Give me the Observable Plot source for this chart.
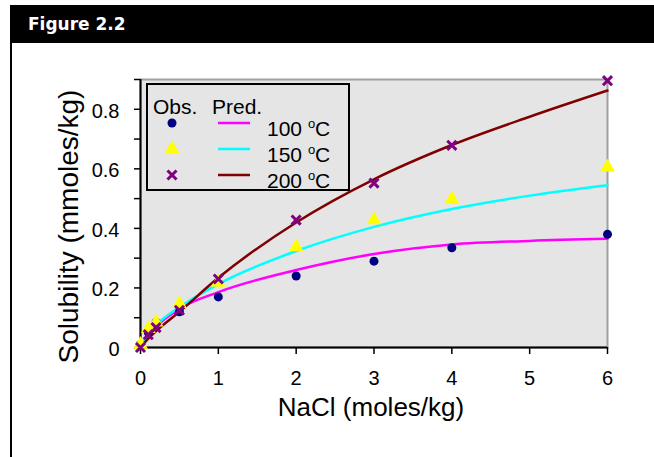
<!DOCTYPE html>
<html>
<head>
<meta charset="utf-8">
<script src="https://cdn.jsdelivr.net/npm/d3@7"></script>
<script src="https://cdn.jsdelivr.net/npm/@observablehq/plot@0.6"></script>
<style>
  body { margin: 0; background: #fff; }
  #wrap { position: relative; width: 654px; height: 457px; overflow: hidden; font-family: "Liberation Sans", Arial, sans-serif; }
  #chart { position: absolute; left: 0; top: 0; }
  #header { position: absolute; left: 10px; top: 5px; }
  #vline { position: absolute; left: 10px; top: 43px; width: 2px; height: 414px; background: #000; }
  #legend { position: absolute; left: 146px; top: 83px; }
</style>
</head>
<body>
<div id="wrap">
  <div id="chart"></div>
  <div id="vline"></div>
  <svg id="header" width="644" height="38">
    <rect width="644" height="38" fill="#000"></rect>
    <text x="18" y="25" fill="#fff" font-family="DejaVu Sans" font-weight="bold" font-size="17">Figure 2.2</text>
  </svg>
  <svg id="legend" width="206" height="110"></svg>
</div>
<script>
// ---- data ----
const naclObs = [0, 0.1, 0.2, 0.5, 1, 2, 3, 4, 6];
const obs100 = [0.01, 0.05, 0.085, 0.12, 0.17, 0.24, 0.29, 0.335, 0.38];
const obs150 = [0.01, 0.063, 0.085, 0.147, 0.218, 0.338, 0.428, 0.498, 0.605];
const obs200 = [0.0, 0.043, 0.067, 0.125, 0.23, 0.428, 0.552, 0.679, 0.896];

const naclPred = [0, 0.1, 0.2, 0.5, 1, 2, 3, 4, 5, 6];
const pred100 = [0, 0.04, 0.07, 0.13, 0.186, 0.26, 0.314, 0.346, 0.358, 0.365];
const pred150 = [0, 0.045, 0.075, 0.135, 0.213, 0.324, 0.405, 0.465, 0.51, 0.545];
const pred200 = [0, 0.03, 0.055, 0.12, 0.234, 0.42, 0.565, 0.68, 0.775, 0.863];

const seriesNames = ["100", "150", "200"];
const lineColors = ["#ff00ff", "#00ffff", "#800000"];
const markerColors = ["#000080", "#ffff00", "#800080"];
const markerSymbols = ["circle", "triangle", "times"];

const xTicks = [0, 1, 2, 3, 4, 5, 6];
const yTicks = [0, 0.1, 0.2, 0.3, 0.4, 0.5, 0.6, 0.7, 0.8, 0.9];
const yTickLabels = [0, 0.2, 0.4, 0.6, 0.8];
const xTitle = "NaCl (moles/kg)";
const yTitle = "Solubility (mmoles/kg)";

const obsSets = [obs100, obs150, obs200];
const predSets = [pred100, pred150, pred200];

const predRows = predSets.map(vals => naclPred.map((x, j) => ({x, y: vals[j]})));
const obsRows = obsSets.map(vals => naclObs.map((x, j) => ({x, y: vals[j]})));

const font = "Liberation Sans, Arial, sans-serif";

const marks = [
  Plot.frame({fill: "#e5e5e5", stroke: "#a0a0a0", strokeWidth: 2}),
  Plot.axisY(yTicks, {tickSize: 6, tickFormat: () => "", label: null, strokeWidth: 1.5}),
  Plot.axisY(yTickLabels, {tickSize: 0, tickPadding: 21, fontSize: 20, label: null, dy: 2,
    tickFormat: d => d === 0 ? "0" : d.toFixed(1)}),
  Plot.axisX(xTicks, {tickSize: 7, tickFormat: () => "", label: null, strokeWidth: 1.5}),
  Plot.axisX(xTicks, {tickSize: 0, tickPadding: 23, fontSize: 20, label: null, tickFormat: d => String(d)}),
  Plot.ruleX([0], {stroke: "#000", strokeWidth: 2}),
  Plot.ruleY([0], {stroke: "#000", strokeWidth: 2}),
];
predRows.forEach((rows, i) => {
  marks.push(Plot.line(rows, {x: "x", y: "y", stroke: lineColors[i], strokeWidth: 2.5, curve: "monotone-x"}));
});
obsRows.forEach((rows, i) => {
  const sym = markerSymbols[i];
  if (sym === "times") {
    marks.push(Plot.dot(rows, {x: "x", y: "y", symbol: sym, r: 4.2, stroke: markerColors[i], strokeWidth: 3}));
  } else {
    marks.push(Plot.dot(rows, {x: "x", y: "y", symbol: sym, r: sym === "triangle" ? 5.5 : 4.5, fill: markerColors[i], stroke: "none"}));
  }
});
marks.push(Plot.text([xTitle], {frameAnchor: "bottom", textAnchor: "middle", text: d => d, dy: 68, dx: -3, fontSize: 26}));
marks.push(Plot.text([yTitle], {frameAnchor: "left", textAnchor: "middle", text: d => d, rotate: -90, dx: -71, dy: 13, fontSize: 28}));

const chart = Plot.plot({
  width: 654,
  height: 457,
  marginLeft: 140,
  marginRight: 47,
  marginTop: 79,
  marginBottom: 110,
  x: {domain: [0, 6]},
  y: {domain: [0, 0.9]},
  style: {background: "transparent", fontFamily: font, color: "#000"},
  marks
});
document.getElementById("chart").appendChild(chart);

// ---- legend ----
const lg = d3.select("#legend");
lg.append("rect").attr("x", 1).attr("y", 1).attr("width", 202).attr("height", 106)
  .attr("fill", "#e5e5e5").attr("stroke", "#000").attr("stroke-width", 2);
const tstyle = sel => sel.attr("font-family", font).attr("font-size", 21).attr("fill", "#000");
lg.append("text").attr("x", 7).attr("y", 31).text("Obs.").call(tstyle);
lg.append("text").attr("x", 66).attr("y", 31).text("Pred.").call(tstyle);
const d3sym = {circle: d3.symbolCircle, triangle: d3.symbolTriangle, times: d3.symbolTimes};
seriesNames.forEach((name, i) => {
  const ry = 40 + i * 26;
  const sym = markerSymbols[i];
  const r = sym === "triangle" ? 5.5 : (sym === "times" ? 4.2 : 4.5);
  const p = lg.append("path")
    .attr("transform", `translate(26,${ry})`)
    .attr("d", d3.symbol(d3sym[sym], Math.PI * r * r)());
  if (sym === "times") p.attr("fill", "none").attr("stroke", markerColors[i]).attr("stroke-width", 3);
  else p.attr("fill", markerColors[i]);
  lg.append("line").attr("x1", 72).attr("x2", 104).attr("y1", ry).attr("y2", ry)
    .attr("stroke", lineColors[i]).attr("stroke-width", 2.5);
  const t = lg.append("text").attr("x", 121).attr("y", ry + 13).call(tstyle);
  t.append("tspan").text(name + " ");
  t.append("tspan").attr("font-size", 13).attr("dy", -8).text("o");
  t.append("tspan").attr("dy", 8).text("C");
});
</script>
</body>
</html>
